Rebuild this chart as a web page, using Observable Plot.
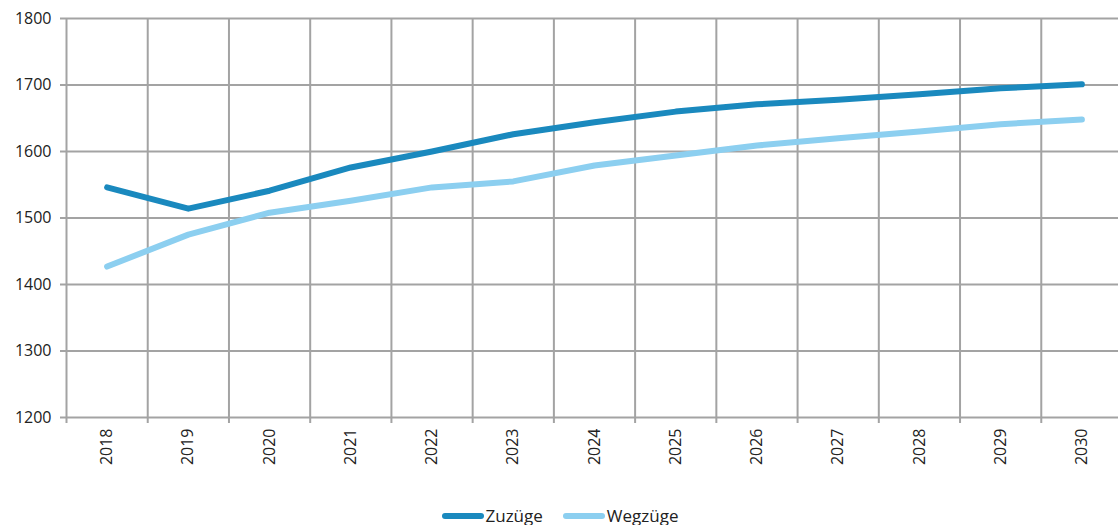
<!DOCTYPE html>
<html><head><meta charset="utf-8">
<script src="https://cdn.jsdelivr.net/npm/d3@7"></script>
<script src="https://cdn.jsdelivr.net/npm/@observablehq/plot@0.6"></script>
<style>
body{margin:0;background:#fff;font-family:"Open Sans",sans-serif;}
#legend{display:flex;justify-content:center;align-items:center;gap:20px;font-size:17px;color:#222;height:45px;margin-top:13px;padding-left:2px;}
.item{display:flex;align-items:center;}
.sw{display:inline-block;width:42px;height:6px;border-radius:3px;margin-right:2px;}
</style></head><body>
<div id="chart"></div>
<div id="legend"></div>
<script>
const years = [2018,2019,2020,2021,2022,2023,2024,2025,2026,2027,2028,2029,2030];
const zuzuege = [1546,1514,1541,1576,1600,1626,1644,1660,1671,1678,1686,1695,1701];
const wegzuege = [1427,1475,1508,1526,1546,1555,1579,1594,1609,1620,1630,1641,1648];
const yTicks = [1200,1300,1400,1500,1600,1700,1800];
const seriesNames = ["Zuzüge","Wegzüge"];
const colors = ["#1a89be","#8ccff0"];

const data = years.flatMap((y,i)=>[
  {year:y, value:zuzuege[i], series:seriesNames[0]},
  {year:y, value:wegzuege[i], series:seriesNames[1]}
]);
const bounds = [...years.map(y=>y-0.5), years[years.length-1]+0.5];
const grey = "#a3a3a3";

const chart = Plot.plot({
  width:1118, height:480, marginTop:18, marginBottom:63, marginLeft:66, marginRight:-4,
  style:{fontFamily:"Open Sans, sans-serif", fontSize:"16px", color:"#222", background:"#fff"},
  x:{domain:[years[0]-0.5, years[years.length-1]+0.5]},
  y:{domain:[1200,1800]},
  color:{domain:seriesNames, range:colors},
  marks:[
    Plot.gridY(yTicks,{stroke:grey, strokeOpacity:1, strokeWidth:2}),
    Plot.gridX(bounds,{stroke:grey, strokeOpacity:1, strokeWidth:2}),
    Plot.axisY(yTicks,{tickSize:6, tickPadding:9, stroke:grey, strokeWidth:2, fill:"#222", label:null, tickFormat:d=>String(d)}),
    Plot.axisX(bounds,{tickSize:6, stroke:grey, strokeWidth:2, tickFormat:()=>"", label:null}),
    Plot.axisX(years,{tickSize:0, tickPadding:11, tickRotate:-90, fill:"#222", label:null, tickFormat:d=>String(d)}),
    Plot.line(data,{x:"year", y:"value", stroke:"series", strokeWidth:6, strokeLinecap:"round", strokeLinejoin:"round"})
  ]
});
document.getElementById("chart").append(chart);

const legend = document.getElementById("legend");
seriesNames.forEach((n,i)=>{
  const it = document.createElement("div"); it.className="item";
  const sw = document.createElement("span"); sw.className="sw"; sw.style.background=colors[i];
  const t = document.createElement("span"); t.textContent=n;
  it.append(sw,t); legend.append(it);
});
</script>
</body></html>
